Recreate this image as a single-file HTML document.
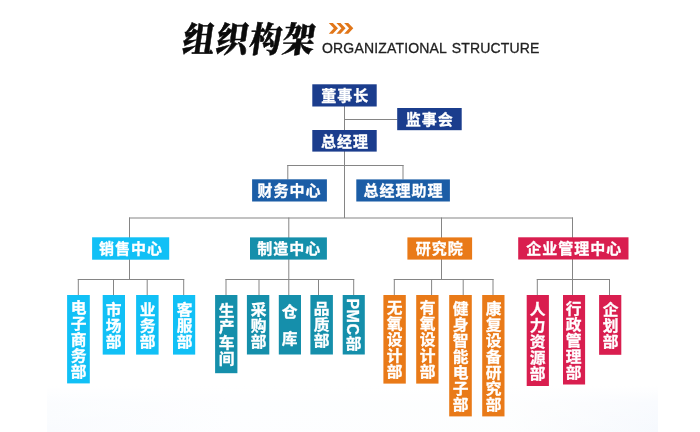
<!DOCTYPE html>
<html lang="zh-CN">
<head>
<meta charset="utf-8">
<title>组织构架 ORGANIZATIONAL STRUCTURE</title>
<style>
*{margin:0;padding:0;box-sizing:border-box}
html,body{width:700px;height:432px;overflow:hidden;background:#fff}
body{position:relative;font-family:"Liberation Sans","Noto Sans CJK SC",sans-serif}
#stage{position:absolute;left:0;top:0;width:700px;height:432px;overflow:hidden;will-change:opacity}
.glow{position:absolute;left:47px;top:386px;width:610.5px;height:46px;background:linear-gradient(to bottom,rgba(255,255,255,1) 0%,rgba(255,255,255,.5) 35%,rgba(255,255,255,.25) 100%),linear-gradient(to right,rgba(247,250,254,1) 0%,rgba(252,253,255,1) 30%,rgba(252,253,254,1) 75%,rgba(243,247,253,1) 100%)}
.title{position:absolute;left:183px;top:15.5px;height:48px;line-height:48px;font-family:"Liberation Serif","Noto Serif CJK SC",serif;font-weight:900;font-size:32px;color:#0b0b0b;white-space:nowrap;transform:skewX(-8deg) scaleY(1.09);transform-origin:left center;letter-spacing:1.3px;-webkit-text-stroke:0.5px #0b0b0b}
.sub{position:absolute;left:322px;top:39px;height:18px;line-height:18px;font-size:14px;color:#222;white-space:nowrap;letter-spacing:0.17px;word-spacing:1.2px;-webkit-text-stroke:0.3px #222}
svg.art{position:absolute;left:0;top:0;width:700px;height:432px}
.h,.v{position:absolute;color:#fff;font-weight:700;-webkit-text-stroke:0.3px #fff;white-space:nowrap}
.h{font-size:15px;letter-spacing:1px;line-height:20px;height:20px;transform:translate(-50%,-50%)}
.v{font-size:15px;line-height:20px;width:20px;writing-mode:vertical-rl;text-orientation:mixed;letter-spacing:1.10px;transform:translate(-50%,-50%) scaleX(1.05)}
.v .en{font-size:16px;letter-spacing:0.5px;position:relative;left:0.2px}
</style>
</head>
<body>
<div id="stage">
<div class="glow"></div>
<svg class="art" viewBox="0 0 700 432">
<g fill="#e17619" transform="translate(328.8 23)">
<path d="M0 0h4.1l5.1 5.35-5.1 5.35H0l5-5.35z"/>
<path d="M7.6 0h4.1l5.1 5.35-5.1 5.35H7.6l5-5.35z"/>
<path d="M15.3 0h4.1l5.1 5.35-5.1 5.35h-4.1l5-5.35z"/>
</g>
<g stroke="#858585" stroke-width="1" fill="none">
<line x1="344.5" y1="106" x2="344.5" y2="218"/>
<line x1="344.5" y1="119.5" x2="397.5" y2="119.5"/>
<line x1="287.3" y1="165.5" x2="403.5" y2="165.5"/>
<line x1="287.8" y1="165" x2="287.8" y2="179.5"/>
<line x1="403.0" y1="165" x2="403.0" y2="179.5"/>
<line x1="129.0" y1="218.0" x2="573.0" y2="218.0"/>
<line x1="129.5" y1="217.5" x2="129.5" y2="279.5"/>
<line x1="288.8" y1="217.5" x2="288.8" y2="295"/>
<line x1="441.5" y1="217.5" x2="441.5" y2="279.5"/>
<line x1="572.5" y1="217.5" x2="572.5" y2="295"/>
<line x1="77.8" y1="279.5" x2="184.2" y2="279.5"/>
<line x1="78.3" y1="279" x2="78.3" y2="295"/>
<line x1="113.5" y1="279" x2="113.5" y2="295"/>
<line x1="147.2" y1="279" x2="147.2" y2="295"/>
<line x1="183.7" y1="279" x2="183.7" y2="295"/>
<line x1="225.5" y1="279.5" x2="354.2" y2="279.5"/>
<line x1="226.0" y1="279" x2="226.0" y2="295"/>
<line x1="259.0" y1="279" x2="259.0" y2="295"/>
<line x1="318.5" y1="279" x2="318.5" y2="295"/>
<line x1="353.7" y1="279" x2="353.7" y2="295"/>
<line x1="393.8" y1="279.5" x2="493.5" y2="279.5"/>
<line x1="394.3" y1="279" x2="394.3" y2="295"/>
<line x1="431.6" y1="279" x2="431.6" y2="295"/>
<line x1="463.2" y1="279" x2="463.2" y2="295"/>
<line x1="493.0" y1="279" x2="493.0" y2="295"/>
<line x1="536.8" y1="279.5" x2="610.0" y2="279.5"/>
<line x1="537.3" y1="279" x2="537.3" y2="295"/>
<line x1="609.5" y1="279" x2="609.5" y2="295"/>
</g>
<g>
<rect x="312.3" y="84.3" width="64.4" height="22.2" fill="#1b3d8d"/>
<rect x="397.2" y="108.0" width="64.5" height="22.2" fill="#1b3d8d"/>
<rect x="312.3" y="130.0" width="64.4" height="21.6" fill="#1b3d8d"/>
<rect x="252.1" y="179.3" width="74.8" height="22.2" fill="#1b5da6"/>
<rect x="356.3" y="179.4" width="93.6" height="22.1" fill="#1b5da6"/>
<rect x="92.1" y="237.3" width="77.1" height="22.4" fill="#11c0f6"/>
<rect x="250.0" y="237.4" width="76.9" height="22.2" fill="#158fab"/>
<rect x="407.4" y="237.4" width="64.7" height="22.2" fill="#e97a18"/>
<rect x="518.2" y="237.3" width="110.3" height="22.2" fill="#d91e4f"/>
<rect x="67.1" y="295.0" width="22.7" height="88.4" fill="#11c0f6"/>
<rect x="102.7" y="295.0" width="22.3" height="59.6" fill="#11c0f6"/>
<rect x="136.1" y="295.0" width="22.5" height="59.6" fill="#11c0f6"/>
<rect x="173.0" y="295.0" width="22.2" height="59.6" fill="#11c0f6"/>
<rect x="215.1" y="295.0" width="22.3" height="78.2" fill="#158fab"/>
<rect x="246.9" y="295.0" width="22.4" height="59.5" fill="#158fab"/>
<rect x="278.8" y="295.0" width="22.2" height="59.5" fill="#158fab"/>
<rect x="310.4" y="295.0" width="22.5" height="59.5" fill="#158fab"/>
<rect x="342.7" y="295.0" width="22.1" height="59.5" fill="#158fab"/>
<rect x="383.4" y="295.0" width="22.4" height="88.6" fill="#e97a18"/>
<rect x="416.2" y="295.0" width="22.3" height="88.6" fill="#e97a18"/>
<rect x="449.2" y="295.0" width="22.6" height="121.4" fill="#e97a18"/>
<rect x="482.2" y="295.0" width="22.3" height="121.4" fill="#e97a18"/>
<rect x="526.7" y="295.0" width="22.2" height="91.0" fill="#d91e4f"/>
<rect x="563.0" y="295.0" width="22.1" height="89.5" fill="#d91e4f"/>
<rect x="599.1" y="295.0" width="22.2" height="59.8" fill="#d91e4f"/>
</g>
</svg>
<div class="title">组织构架</div>
<div class="sub">ORGANIZATIONAL STRUCTURE</div>
<div class="h" style="left:345.33px;top:96.25px">董事长</div>
<div class="h" style="left:429.80px;top:119.50px">监事会</div>
<div class="h" style="left:344.94px;top:141.60px">总经理</div>
<div class="h" style="left:289.52px;top:190.50px">财务中心</div>
<div class="h" style="left:403.40px;top:191.00px">总经理助理</div>
<div class="h" style="left:130.98px;top:249.00px">销售中心</div>
<div class="h" style="left:289.24px;top:249.36px">制造中心</div>
<div class="h" style="left:439.69px;top:249.07px">研究院</div>
<div class="h" style="left:574.24px;top:249.45px">企业管理中心</div>
<div class="v" style="left:77.25px;top:340.00px">电子商务部</div>
<div class="v" style="left:112.13px;top:325.68px">市场部</div>
<div class="v" style="left:145.63px;top:326.00px">业务部</div>
<div class="v" style="left:182.66px;top:326.04px">客服部</div>
<div class="v" style="left:224.69px;top:334.50px">生产车间</div>
<div class="v" style="left:256.66px;top:325.75px">采购部</div>
<div class="v" style="left:288.18px;top:331.39px;letter-spacing:11.70px">仓库</div>
<div class="v" style="left:320.25px;top:324.91px">品质部</div>
<div class="v" style="left:352.49px;top:324.75px"><span class="en">PMC</span>部</div>
<div class="v" style="left:393.00px;top:339.74px">无氧设计部</div>
<div class="v" style="left:425.75px;top:340.30px">有氧设计部</div>
<div class="v" style="left:458.50px;top:356.50px">健身智能电子部</div>
<div class="v" style="left:491.75px;top:356.50px">康复设备研究部</div>
<div class="v" style="left:536.36px;top:341.51px">人力资源部</div>
<div class="v" style="left:572.05px;top:340.75px">行政管理部</div>
<div class="v" style="left:608.56px;top:325.94px">企划部</div>
</div>
</body>
</html>
